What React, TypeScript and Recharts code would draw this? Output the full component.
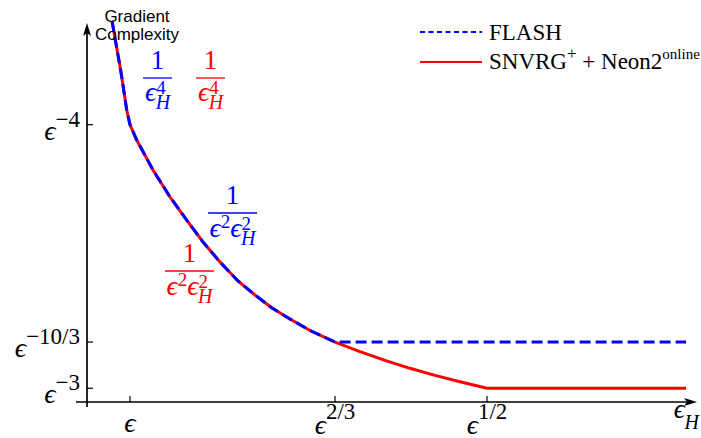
import React from "react";
import { Legend, Line, LineChart, ReferenceDot, ReferenceLine, XAxis, YAxis } from "recharts";

const BLUE = "#0000ff";
const RED = "#ff0000";
const MATH = "'Liberation Serif', 'DejaVu Serif', serif";
const SANS = "'Liberation Sans', Arial, sans-serif";

// common descent of both methods (x: position of eps_H, y: complexity)
const sharedX = [4.1, 5.57, 6.51, 7.05, 8.15, 10.82, 13.61, 16.34, 19.02, 21.8, 24.75, 27.54, 30.33, 33.28, 36.56, 40.66];
const sharedY = [99.74, 86.39, 76.44, 72.6, 68.59, 60.73, 53.66, 47.64, 41.88, 36.65, 31.68, 28.01, 24.61, 21.73, 18.72, 15.7];

// FLASH stays flat after eps^{2/3}
const flashTailX = [98.2];
const flashTailY = [15.7];

// SNVRG+ + Neon2 keeps dropping until eps^{1/2}
const snvrgTailX = [44.75, 48.85, 52.95, 57.05, 61.15, 65.57, 98.2];
const snvrgTailY = [13.19, 10.89, 8.82, 6.96, 5.31, 3.6, 3.6];

const xTickValues = [7.05, 40.66, 65.57];
const xTickSup = ["", "2/3", "1/2"];
const yTickValues = [3.6, 15.7, 72.6];
const yTickSup = ["\u22123", "\u221210/3", "\u22124"];

const FLASH = "FLASH";
const SNVRG = "SNVRG+ + Neon2online";

// fraction annotations: anchor = centre of the fraction bar
const noteX = [11.56, 20.25, 23.85, 16.8];
const noteY = [84.82, 84.82, 49.48, 34.29];
const noteColor = [BLUE, RED, BLUE, RED];
const noteKind = ["h4", "h4", "e2h2", "e2h2"];

const toPoints = (xs: number[], ys: number[]) => xs.map((x, i) => ({ x, y: ys[i] }));

const flashData = toPoints([...sharedX, ...flashTailX], [...sharedY, ...flashTailY]);
const snvrgData = toPoints([...sharedX, ...snvrgTailX], [...sharedY, ...snvrgTailY]);

function XTick({ x, y, payload }: any) {
  const sup = xTickSup[xTickValues.indexOf(payload.value)];
  return (
    <g>
      <line x1={x} y1={y} x2={x} y2={y - 6} stroke="#000" strokeWidth={1.2} />
      <text x={x} y={y + (sup ? 32 : 30)} textAnchor="middle" fontFamily={MATH} fill="#000">
        <tspan fontStyle="italic" fontSize={28}>ϵ</tspan>
        {sup ? <tspan fontSize={23} dy={-15}>{sup}</tspan> : null}
      </text>
    </g>
  );
}

function YTick({ x, y, payload }: any) {
  const sup = yTickSup[yTickValues.indexOf(payload.value)];
  return (
    <g>
      <line x1={x} y1={y} x2={x + 6} y2={y} stroke="#000" strokeWidth={1.2} />
      <text x={x - 7} y={y + 15} textAnchor="end" fontFamily={MATH} fill="#000">
        <tspan fontStyle="italic" fontSize={28}>ϵ</tspan>
        <tspan fontSize={23} dy={-13}>{sup}</tspan>
      </text>
    </g>
  );
}

function XTitle({ viewBox }: any) {
  const { x, y, width } = viewBox;
  return (
    <text x={x + width + 2} y={y + 16} textAnchor="end" fontFamily={MATH} fontStyle="italic" fill="#000">
      <tspan fontSize={27}>ϵ</tspan>
      <tspan fontSize={20} dy={11}>H</tspan>
    </text>
  );
}

function YTitle({ viewBox }: any) {
  const { x, width } = viewBox;
  const cx = x + width + 50;
  return (
    <text textAnchor="middle" fontFamily={SANS} fontSize={17} fill="#000">
      <tspan x={cx} y={22}>Gradient</tspan>
      <tspan x={cx} y={40}>Complexity</tspan>
    </text>
  );
}

function UpArrow({ cx, cy }: any) {
  return <path d={`M${cx},${cy} L${cx - 4},${cy + 13} L${cx},${cy + 10} L${cx + 4},${cy + 13} Z`} fill="#000" />;
}

function RightArrow({ cx, cy }: any) {
  return <path d={`M${cx},${cy} L${cx - 13},${cy - 4} L${cx - 10},${cy} L${cx - 13},${cy + 4} Z`} fill="#000" />;
}

function Fraction({ cx, cy, color, kind }: any) {
  const half = kind === "h4" ? 14.5 : 24.5;
  return (
    <g fill={color} fontFamily={MATH}>
      <text x={cx} y={cy - 9} textAnchor="middle" fontSize={27}>1</text>
      <line x1={cx - half} y1={cy} x2={cx + half} y2={cy} stroke={color} strokeWidth={1.3} />
      {kind === "h4" ? (
        <text x={cx} y={cy + 23} textAnchor="middle">
          <tspan fontStyle="italic" fontSize={28}>ϵ</tspan>
          <tspan fontSize={19} dy={-7}>4</tspan>
          <tspan fontStyle="italic" fontSize={20} dx={-10} dy={15}>H</tspan>
        </text>
      ) : (
        <text x={cx} y={cy + 24} textAnchor="middle">
          <tspan fontStyle="italic" fontSize={28}>ϵ</tspan>
          <tspan fontSize={19} dy={-9}>2</tspan>
          <tspan fontStyle="italic" fontSize={28} dy={9}>ϵ</tspan>
          <tspan fontSize={19} dy={-7}>2</tspan>
          <tspan fontStyle="italic" fontSize={20} dx={-10} dy={15}>H</tspan>
        </text>
      )}
    </g>
  );
}

function LegendBox({ payload }: any) {
  const entry = (name: string) => (payload || []).find((p: any) => p.value === name) || {};
  const flash = entry(FLASH);
  const snvrg = entry(SNVRG);
  return (
    <svg width={285} height={62} style={{ display: "block", overflow: "visible" }}>
      <line x1={2} y1={18} x2={64} y2={18} stroke={flash.color || BLUE} strokeWidth={2} strokeDasharray="5 3.5" />
      <text x={71} y={26} fontFamily={MATH} fontSize={23} fill="#000">FLASH</text>
      <line x1={2} y1={48} x2={64} y2={48} stroke={snvrg.color || RED} strokeWidth={2} />
      <text x={71} y={55} fontFamily={MATH} fontSize={23} fill="#000" style={{ whiteSpace: "pre" }}>
        <tspan>SNVRG</tspan>
        <tspan fontSize={17} dy={-10}>+</tspan>
        <tspan dy={10}> + Neon2</tspan>
        <tspan fontSize={15} dy={-10}>online</tspan>
      </text>
    </svg>
  );
}

export default function App() {
  return (
    <div style={{ position: "absolute", left: 0, top: 0, background: "#fff" }}>
      <LineChart width={701} height={438} margin={{ top: 20, right: 4, bottom: 0, left: 0 }}>
        <XAxis
          type="number"
          dataKey="x"
          domain={[0, 100]}
          ticks={xTickValues}
          interval={0}
          height={36}
          axisLine={false}
          tickLine={false}
          tickSize={0}
          tickMargin={0}
          tick={<XTick />}
          label={<XTitle />}
        />
        <YAxis
          type="number"
          domain={[0, 100]}
          ticks={yTickValues}
          interval={0}
          width={87}
          axisLine={false}
          tickLine={false}
          tickSize={0}
          tickMargin={0}
          tick={<YTick />}
          label={<YTitle />}
        />
        <ReferenceLine segment={[{ x: 0, y: -1.3 }, { x: 0, y: 97 }]} stroke="#000" strokeWidth={1.7} ifOverflow="visible" />
        <ReferenceLine segment={[{ x: -1.8, y: 0 }, { x: 98.5, y: 0 }]} stroke="#000" strokeWidth={1.7} ifOverflow="visible" />
        <ReferenceDot x={0} y={99.2} ifOverflow="visible" shape={(p: any) => <UpArrow {...p} />} />
        <ReferenceDot x={100} y={0} ifOverflow="visible" shape={(p: any) => <RightArrow {...p} />} />
        <Line
          data={snvrgData}
          dataKey="y"
          name={SNVRG}
          type="linear"
          stroke={RED}
          strokeWidth={3}
          dot={false}
          activeDot={false}
          isAnimationActive={false}
        />
        <Line
          data={flashData}
          dataKey="y"
          name={FLASH}
          type="linear"
          stroke={BLUE}
          strokeWidth={3}
          strokeDasharray="11 5"
          dot={false}
          activeDot={false}
          isAnimationActive={false}
        />
        {noteX.map((nx, i) => (
          <ReferenceDot
            key={i}
            x={nx}
            y={noteY[i]}
            ifOverflow="visible"
            shape={(p: any) => <Fraction cx={p.cx} cy={p.cy} color={noteColor[i]} kind={noteKind[i]} />}
          />
        ))}
        <Legend
          layout="horizontal"
          verticalAlign="middle"
          align="center"
          wrapperStyle={{ top: 14, left: 418, width: 285, height: 62 }}
          content={<LegendBox />}
        />
      </LineChart>
    </div>
  );
}
